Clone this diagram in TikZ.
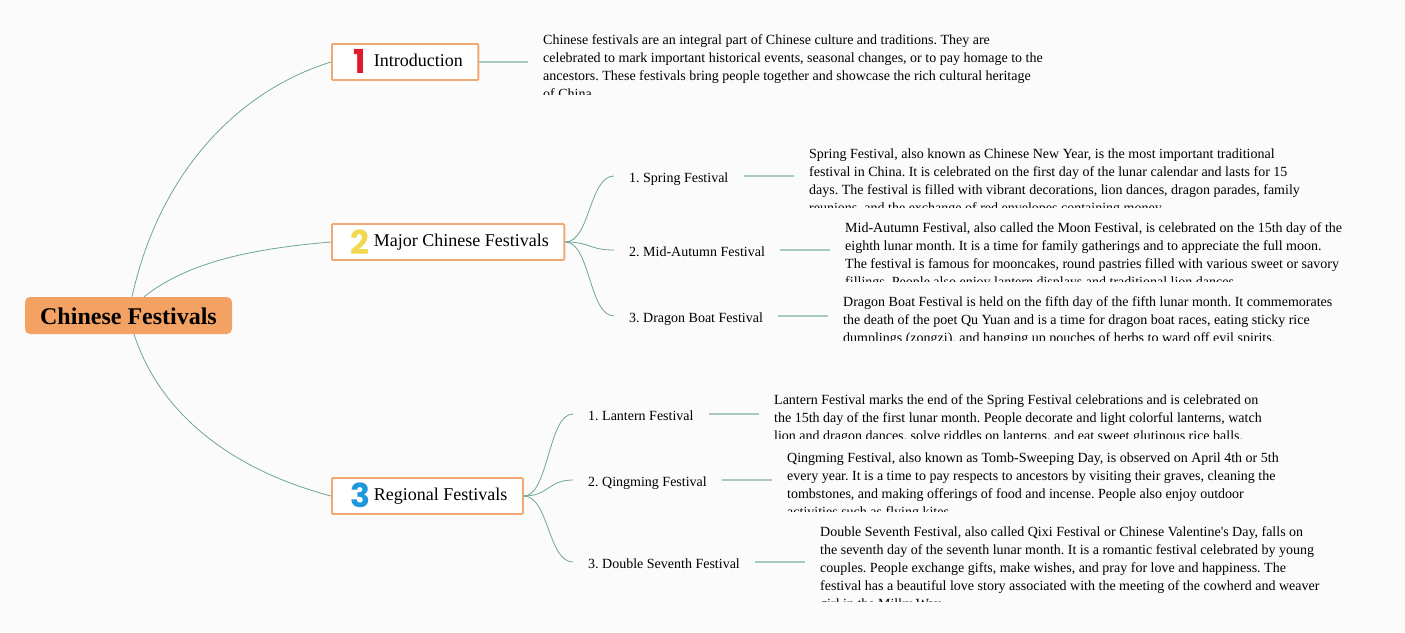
\documentclass[tikz,border=0pt]{standalone}
\usepackage{fontspec}
\usepackage{xcolor}
\setmainfont[Ligatures=TeXOff]{Liberation Serif}
\newfontfamily\digitfont{Poppins}
\definecolor{pagebg}{HTML}{FBFBFB}
\definecolor{rootfill}{HTML}{F4A263}
\definecolor{boxedge}{HTML}{F2A874}
\definecolor{curveline}{HTML}{6FA593}
\definecolor{leaderline}{HTML}{A8CABF}
\definecolor{numred}{HTML}{DE1A2E}
\definecolor{numyellow}{HTML}{F2D84E}
\definecolor{numblue}{HTML}{1E98DC}
\tikzset{
  rootbox/.style={fill=rootfill, rounded corners=5pt, minimum width=207pt, minimum height=37pt, inner sep=0pt, text height=17pt, text depth=0pt, font=\fontsize{24}{28}\selectfont\bfseries},
  branchbox/.style={draw=boxedge, line width=1.8pt, fill=white, rounded corners=1pt, anchor=west, minimum height=36pt, inner ysep=0pt, inner xsep=15.5pt, text height=13pt, text depth=4.4pt, font=\fontsize{18}{22}\selectfont},
  digit/.style={inner sep=0pt, font=\digitfont\fontsize{33}{36}\selectfont\bfseries},
  subitem/.style={anchor=west, inner xsep=15pt, inner ysep=0pt, text height=14pt, text depth=1.4pt, font=\fontsize{14}{18}\selectfont},
  bodytext/.style={anchor=north west, inner sep=0pt, align=left, font=\fontsize{14}{18}\selectfont},
  curve/.style={draw=curveline, line width=0.8pt},
  leader/.style={draw=leaderline, line width=1.4pt}
}
\begin{document}
\frenchspacing
\begin{tikzpicture}[x=1pt, y=-1pt]
  \fill[pagebg] (0,0) rectangle (1405,632);

  % root and main branches
  \node[rootbox] (root) at (128.5,315.5) {Chinese Festivals};
  \node[branchbox] (intro) at (331,62) {\hspace*{26.5pt}Introduction};
  \node[branchbox] (major) at (331,242) {\hspace*{26.5pt}Major Chinese Festivals};
  \node[branchbox] (regional) at (331,496) {\hspace*{26.5pt}Regional Festivals};
  \node[digit, text=numred] (one) at (360,61.5) {1};
  \node[digit, text=numyellow] (two) at (360,242) {2};
  \node[digit, text=numblue] (three) at (360,495.5) {3};

  \draw[curve] ([xshift=3.5pt]root.north) .. controls (160,170) and (240,90) .. (intro.west);
  \draw[curve] ([xshift=15.5pt]root.north) .. controls (190,260) and (260,248) .. (major.west);
  \draw[curve] ([xshift=5.5pt]root.south) .. controls (162,420) and (240,472) .. (regional.west);

  % sub items
  \node[subitem] (spring) at (614,176) {1. Spring Festival};
  \node[subitem] (autumn) at (614,250) {2. Mid-Autumn Festival};
  \node[subitem] (dragon) at (614,316) {3. Dragon Boat Festival};
  \node[subitem] (lantern) at (573,414) {1. Lantern Festival};
  \node[subitem] (qingming) at (573,480) {2. Qingming Festival};
  \node[subitem] (seventh) at (573,562) {3. Double Seventh Festival};

  \foreach \item in {spring,autumn,dragon}
    \draw[curve] (major.east) .. controls +(25,0) and +(-25,0) .. (\item.west);
  \foreach \item in {lantern,qingming,seventh}
    \draw[curve] (regional.east) .. controls +(25,0) and +(-25,0) .. (\item.west);

  % leader ends
  \coordinate (introend) at (528,62);
  \coordinate (springend) at (794,176);
  \coordinate (autumnend) at (830,250);
  \coordinate (dragonend) at (828,316);
  \coordinate (lanternend) at (759,414);
  \coordinate (qingmingend) at (772,480);
  \coordinate (seventhend) at (805,562);
  \draw[leader] (intro.east) -- (introend);
  \foreach \item in {spring,autumn,dragon,lantern,qingming,seventh}
    \draw[leader] (\item.east) -- (\item end);

  % body texts, cut off at the bottom
  \begin{scope}
    \clip (543,28) rectangle (1060,94);
    \node[bodytext] (introtext) at (543,34) {Chinese festivals are an integral part of Chinese culture and traditions. They are\\celebrated to mark important historical events, seasonal changes, or to pay homage to the\\ancestors. These festivals bring people together and showcase the rich cultural heritage\\of China.};
  \end{scope}
  \begin{scope}
    \clip (809,142) rectangle (1320,207);
    \node[bodytext] (springtext) at (809,149) {Spring Festival, also known as Chinese New Year, is the most important traditional\\festival in China. It is celebrated on the first day of the lunar calendar and lasts for 15\\days. The festival is filled with vibrant decorations, lion dances, dragon parades, family\\reunions, and the exchange of red envelopes containing money.};
  \end{scope}
  \begin{scope}
    \clip (845,216) rectangle (1360,281);
    \node[bodytext] (autumntext) at (845,222) {Mid-Autumn Festival, also called the Moon Festival, is celebrated on the 15th day of the\\eighth lunar month. It is a time for family gatherings and to appreciate the full moon.\\The festival is famous for mooncakes, round pastries filled with various sweet or savory\\fillings. People also enjoy lantern displays and traditional lion dances.};
  \end{scope}
  \begin{scope}
    \clip (843,290) rectangle (1350,340);
    \node[bodytext] (dragontext) at (843,296) {Dragon Boat Festival is held on the fifth day of the fifth lunar month. It commemorates\\the death of the poet Qu Yuan and is a time for dragon boat races, eating sticky rice\\dumplings (zongzi), and hanging up pouches of herbs to ward off evil spirits.};
  \end{scope}
  \begin{scope}
    \clip (774,388) rectangle (1280,438);
    \node[bodytext] (lanterntext) at (774,394) {Lantern Festival marks the end of the Spring Festival celebrations and is celebrated on\\the 15th day of the first lunar month. People decorate and light colorful lanterns, watch\\lion and dragon dances, solve riddles on lanterns, and eat sweet glutinous rice balls.};
  \end{scope}
  \begin{scope}
    \clip (787,446) rectangle (1290,511);
    \node[bodytext] (qingmingtext) at (787,453) {Qingming Festival, also known as Tomb-Sweeping Day, is observed on April 4th or 5th\\every year. It is a time to pay respects to ancestors by visiting their graves, cleaning the\\tombstones, and making offerings of food and incense. People also enjoy outdoor\\activities such as flying kites.};
  \end{scope}
  \begin{scope}
    \clip (820,520) rectangle (1330,601);
    \node[bodytext] (seventhtext) at (820,526) {Double Seventh Festival, also called Qixi Festival or Chinese Valentine's Day, falls on\\the seventh day of the seventh lunar month. It is a romantic festival celebrated by young\\couples. People exchange gifts, make wishes, and pray for love and happiness. The\\festival has a beautiful love story associated with the meeting of the cowherd and weaver\\girl in the Milky Way.};
  \end{scope}
\end{tikzpicture}
\end{document}
